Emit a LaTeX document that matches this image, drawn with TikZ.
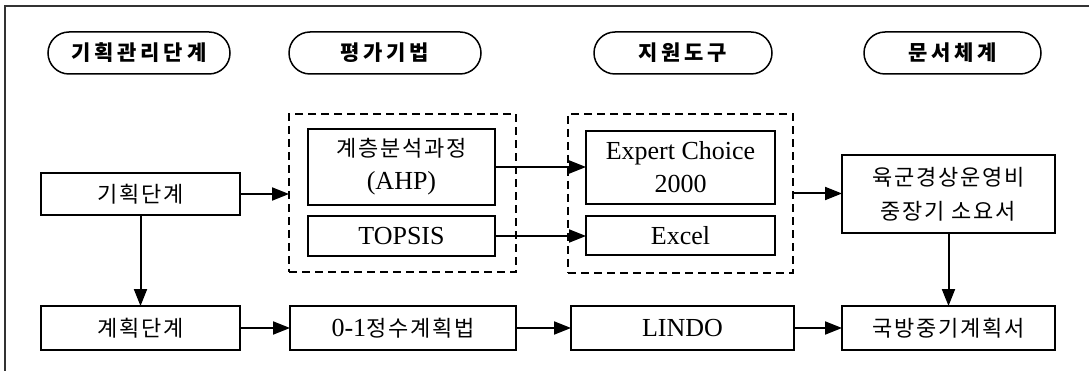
\documentclass[tikz,border=0pt]{standalone}
\usepackage{fontspec}
\setmainfont{Liberation Serif}
\newfontfamily\kr[LetterSpace=8]{Noto Sans CJK KR}
\newfontfamily\krh[LetterSpace=18]{Noto Sans CJK KR}
\usetikzlibrary{arrows.meta}
\begin{document}
\begin{tikzpicture}[x=1pt,y=-1pt,
  every node/.style={inner sep=0pt, outer sep=0pt, align=center},
  box/.style={draw, line width=2pt, font=\fontsize{26}{33}\selectfont},
  ktext/.style={font=\kr\fontsize{22}{34}\selectfont},
  pill/.style={draw, line width=1.5pt, rounded corners=21pt, minimum height=42pt,
    font=\fontsize{21}{24}\selectfont\krh\bfseries},
  grp/.style={draw, line width=2.2pt, dash pattern=on 8pt off 5pt},
  conn/.style={line width=2pt, -{Triangle[length=17pt,width=13pt]}},
  frame/.style={line width=2pt, draw=black!80}
]
\useasboundingbox (0,0) rectangle (1089,371);
\draw[frame] (5,371) -- (5,6) -- (1089,6);

% header pills
\node[pill, minimum width=182pt] (p1) at (139,53) {기획관리단계};
\node[pill, minimum width=192pt] (p2) at (385,53) {평가기법};
\node[pill, minimum width=178pt] (p3) at (683,53) {지원도구};
\node[pill, minimum width=177pt] (p4) at (952.5,53) {문서체계};

% dashed groups
\node[grp, minimum width=227pt, minimum height=158pt] (d1) at (402.5,193) {};
\node[grp, minimum width=225pt, minimum height=159pt] (d2) at (680.5,193.5) {};

% boxes
\node[box, minimum width=199pt, minimum height=42pt] (gh) at (140.5,194) {\kr\fontsize{22}{34}\selectfont 기획단계};
\node[box, minimum width=187pt, minimum height=76pt] (ahp) at (401.5,167) {{\kr\fontsize{22}{34}\selectfont 계층분석과정}\\(AHP)};
\node[box, minimum width=187pt, minimum height=40pt] (top) at (401.5,236) {TOPSIS};
\node[box, minimum width=189pt, minimum height=73pt] (exp) at (680.5,167.5) {Expert Choice\\2000};
\node[box, minimum width=189pt, minimum height=39pt] (exc) at (680.5,235.5) {Excel};
\node[box, ktext, minimum width=213pt, minimum height=78pt] (yuk) at (948.5,194) {육군경상운영비\\중장기 소요서};
\node[box, ktext, minimum width=199pt, minimum height=44pt] (gk) at (140.5,328) {계획단계};
\node[box, minimum width=226pt, minimum height=44pt] (zo) at (403,328) {0-1{\kr\fontsize{22}{34}\selectfont 정수계획법}};
\node[box, minimum width=223pt, minimum height=44pt] (lindo) at (682.5,328) {LINDO};
\node[box, ktext, minimum width=213pt, minimum height=44pt] (gb) at (948.5,328) {국방중기계획서};

% connectors
\draw[conn] (gh.east) -- (gh.east -| d1.west);
\draw[conn] (gh.south) -- (gk.north);
\draw[conn] (ahp.east) -- (ahp.east -| exp.west);
\draw[conn] (top.east) -- (top.east -| exc.west);
\draw[conn] (d2.east) -- (d2.east -| yuk.west);
\draw[conn] (yuk.south) -- (gb.north);
\draw[conn] (gk.east) -- (zo.west);
\draw[conn] (zo.east) -- (lindo.west);
\draw[conn] (lindo.east) -- (gb.west);
\end{tikzpicture}
\end{document}
